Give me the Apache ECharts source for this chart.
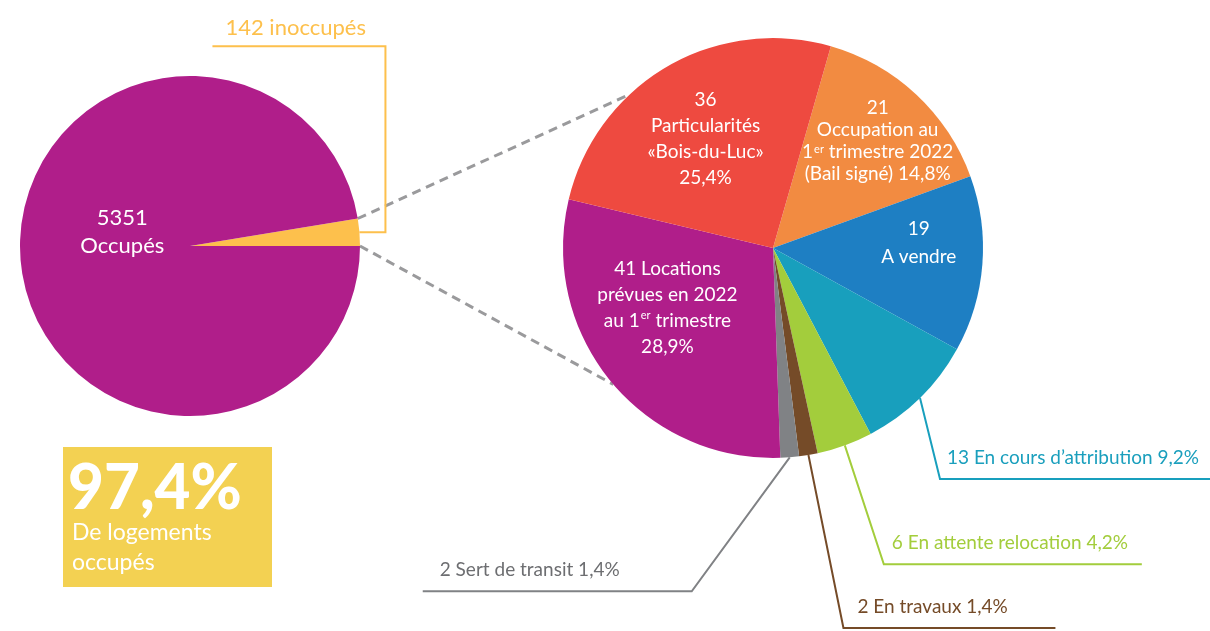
<!DOCTYPE html>
<html><head><meta charset="utf-8">
<script src="https://cdn.jsdelivr.net/npm/echarts@6/dist/echarts.min.js"></script>
<style>html,body{margin:0;padding:0;background:#fff}#c{width:1210px;height:631px}</style>
</head><body><div id="c"></div>
<script>
// ---------- data ----------
const overviewNames = ['inoccupés', 'Occupés'];
const overviewValues = [142, 5351];

const detailNames = [
  'Occupation au 1er trimestre 2022 (Bail signé)',
  'A vendre',
  'En cours d’attribution',
  'En attente relocation',
  'En travaux',
  'Sert de transit',
  'Locations prévues en 2022 au 1er trimestre',
  'Particularités «Bois-du-Luc»'
];
const detailValues = [21, 19, 13, 6, 2, 2, 41, 36];

// ---------- styles / layout ----------
const FONT = 'Lato';
const FS = 19;
const detailColors = ['#F28B41', '#1E7FC3', '#189FBD', '#A3CD3C', '#754B28', '#808285', '#B01E8A', '#EE4A40'];
const calloutTextColors = {2: '#1A9FBD', 3: '#A3CD3C', 4: '#754B28', 5: '#6D6E71'};
const overviewColors = ['#FDC04C', '#B01E8A'];

const L_CENTER = [190, 246], L_R = 170;
const R_CENTER = [773, 248], R_R = 210, R_START = 74;

const inoccTotal = overviewValues[0];
const pct = v => (v / inoccTotal * 100).toFixed(1).replace('.', ',') + '%';

const detailLabelText = [
  v => v + '\nOccupation au\n1{sup|er} trimestre 2022\n(Bail signé) ' + pct(v),
  v => v + '\nA vendre',
  v => v + ' En cours d’attribution ' + pct(v),
  v => v + ' En attente relocation ' + pct(v),
  v => v + ' En travaux ' + pct(v),
  v => v + ' Sert de transit ' + pct(v),
  v => v + ' Locations\nprévues en 2022\nau 1{sup|er} trimestre\n' + pct(v),
  v => v + '\nParticularités\n«Bois-du-Luc»\n' + pct(v)
];
const insideLineHeights = {0: 22, 1: 28, 6: 26, 7: 26};
const insideOffsets = {0: [31, -28], 1: [38, -13], 6: [-22, -9], 7: [-13, -16]};
const callouts = {
  2: {elbow: [20, 81], len: 270, dir: 1, inset: 7},
  3: {elbow: [39, 119], len: 258, dir: 1, inset: 8},
  4: {elbow: [35, 173], len: 212, dir: 1, inset: 14},
  5: {elbow: [-98, 134], len: 269, dir: -1, inset: 17}
};

const detailTotal = detailValues.reduce((a, b) => a + b, 0);
function midFromTop(i) {
  const before = detailValues.slice(0, i).reduce((a, b) => a + b, 0);
  return (90 - R_START) + (before + detailValues[i] / 2) / detailTotal * 360;
}
function polar(c, r, degFromTop) {
  const a = degFromTop * Math.PI / 180;
  return [c[0] + r * Math.sin(a), c[1] - r * Math.cos(a)];
}

const overviewTotal = overviewValues.reduce((a, b) => a + b, 0);
const yellowSweep = overviewValues[0] / overviewTotal * 360;

const supStyle = {fontSize: 11, verticalAlign: 'top', padding: [3, 0, 0, 1], color: '#fff', fontFamily: FONT};

const detailData = detailValues.map((v, i) => {
  const isOut = callouts[i] != null;
  return {
    name: detailNames[i],
    value: v,
    itemStyle: {color: detailColors[i]},
    label: isOut ? {
      position: 'outside', color: calloutTextColors[i], fontSize: FS, fontFamily: FONT
    } : {position: 'inside', lineHeight: insideLineHeights[i]},
    labelLine: isOut ? {show: true, lineStyle: {color: detailColors[i], width: 2}} : {show: false}
  };
});

const chart = echarts.init(document.getElementById('c'), null, {renderer: 'canvas'});

// dashed connectors
const upA = polar(L_CENTER, L_R, 90 - yellowSweep);
const lowA = polar(L_CENTER, L_R, 90);
const upB = polar(R_CENTER, R_R, 317);
const lowB = polar(R_CENTER, R_R, 229.5);

const occPct = (overviewValues[1] / overviewTotal * 100).toFixed(1).replace('.', ',') + '%';

chart.setOption({
  animation: false,
  textStyle: {fontFamily: FONT},
  graphic: [
    {type: 'line', shape: {x1: upA[0], y1: upA[1], x2: upB[0], y2: upB[1]},
     style: {stroke: '#9A9A9C', lineWidth: 3, lineDash: [9, 6]}, z: 0},
    {type: 'line', shape: {x1: lowA[0], y1: lowA[1], x2: lowB[0], y2: lowB[1]},
     style: {stroke: '#9A9A9C', lineWidth: 3, lineDash: [9, 6]}, z: 0},
    {type: 'rect', shape: {x: 63, y: 447, width: 209, height: 140}, style: {fill: '#F3D152'}},
    {type: 'text', style: {x: 68, y: 489, text: occPct, fill: '#fff', fontFamily: FONT, fontWeight: 900, fontSize: 62, align: 'left', verticalAlign: 'middle'}},
    {type: 'text', style: {x: 72, y: 548, text: 'De logements\noccupés', fill: '#fff', fontFamily: FONT, fontSize: 23, lineHeight: 30, align: 'left', verticalAlign: 'middle'}}
  ],
  series: [
    {
      type: 'pie',
      center: L_CENTER,
      radius: L_R,
      startAngle: 0,
      clockwise: false,
      avoidLabelOverlap: false,
      silent: true,
      itemStyle: {borderWidth: 0},
      data: overviewValues.map((v, i) => ({
        name: overviewNames[i], value: v,
        itemStyle: {color: overviewColors[i]},
        label: i === 0 ? {position: 'outside', color: overviewColors[0], fontSize: 22, fontFamily: FONT}
                       : {position: 'inside', color: '#fff', fontSize: 22, fontFamily: FONT, lineHeight: 28},
        labelLine: i === 0 ? {show: true, lineStyle: {color: overviewColors[0], width: 2}} : {show: false}
      })),
      label: {
        formatter: p => p.dataIndex === 0 ? p.value + ' ' + p.name : p.value + '\n' + p.name
      },
      labelLayout: function (params) {
        if (params.dataIndex === 1) return {dx: 20, dy: -21};
        const p0 = polar(L_CENTER, L_R, 90 - yellowSweep / 2);
        const p1 = [p0[0] + 26, p0[1]];
        const p2 = [p1[0], p1[1] - 186];
        const p3 = [p2[0] - 173, p2[1]];
        return {x: p3[0] + 13, y: p2[1] - 7, align: 'left', verticalAlign: 'bottom', labelLinePoints: [p0, p1, p2, p3]};
      }
    },
    {
      type: 'pie',
      center: R_CENTER,
      radius: R_R,
      startAngle: R_START,
      clockwise: true,
      avoidLabelOverlap: false,
      silent: true,
      itemStyle: {borderWidth: 0},
      label: {
        color: '#fff',
        fontSize: FS,
        lineHeight: 26,
        fontFamily: FONT,
        align: 'center',
        formatter: p => detailLabelText[p.dataIndex](p.value),
        rich: {sup: supStyle}
      },
      labelLayout: function (params) {
        const i = params.dataIndex;
        if (insideOffsets[i]) return {dx: insideOffsets[i][0], dy: insideOffsets[i][1]};
        const c = callouts[i];
        const p0 = polar(R_CENTER, R_R, midFromTop(i));
        const p1 = [p0[0] + c.elbow[0], p0[1] + c.elbow[1]];
        const p2 = [p1[0] + c.dir * c.len, p1[1]];
        const tx = c.dir > 0 ? p1[0] + c.inset : p2[0] + c.inset;
        return {x: tx, y: p1[1] - 8, align: 'left', verticalAlign: 'bottom', labelLinePoints: [p0, p1, p2]};
      },
      data: detailData
    }
  ]
});
</script>
</body></html>
